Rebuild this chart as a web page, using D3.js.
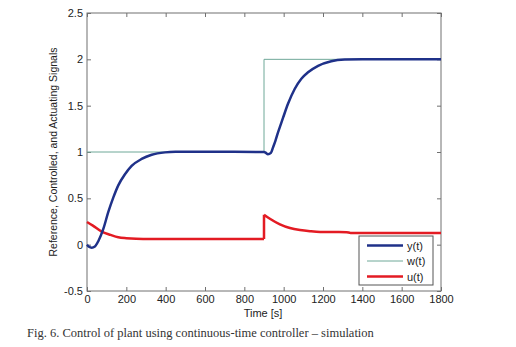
<!DOCTYPE html>
<html>
<head>
<meta charset="utf-8">
<script src="https://cdn.jsdelivr.net/npm/d3@7/dist/d3.min.js"></script>
<style>
  html, body { margin: 0; padding: 0; background: #fff; }
  svg { display: block; }
  text { font-family: "Liberation Sans", Arial, sans-serif; fill: #222; }
  .caption { font-family: "Liberation Serif", "DejaVu Serif", serif; fill: #333; }
</style>
</head>
<body>
<svg id="chart" width="516" height="347"></svg>
<script>
// Simulation time stamps [s] and signal values
const yTime = [0, 10, 24, 40, 58, 83, 108, 134, 159, 193, 227, 278, 329, 397, 450, 550, 700, 900,
               910, 920, 935, 946, 958, 971, 984, 997, 1022, 1056, 1090, 1124, 1175, 1242, 1310, 1400, 1800];
const yValues = [0, -0.022, -0.032, -0.02, 0.04, 0.17, 0.35, 0.51, 0.64, 0.76, 0.85, 0.925, 0.97, 0.996, 1.002, 1.003, 1.002, 1.0,
                 0.99, 0.975, 0.99, 1.05, 1.12, 1.21, 1.29, 1.37, 1.52, 1.68, 1.79, 1.86, 1.93, 1.98, 1.997, 2.0, 2.0];

const wTime = [0, 900, 900, 1800];
const wValues = [1, 1, 2, 2];

const uTime = [0, 30, 75, 120, 159, 200, 250, 320, 900, 900, 930, 981, 1032, 1083, 1134, 1186, 1320, 1340, 1800];
const uValues = [0.245, 0.205, 0.14, 0.105, 0.08, 0.07, 0.064, 0.062, 0.062, 0.324, 0.28, 0.22, 0.18, 0.158, 0.145, 0.137, 0.135, 0.127, 0.127];

const xTicks = [0, 200, 400, 600, 800, 1000, 1200, 1400, 1600, 1800];
const yTicks = [-0.5, 0, 0.5, 1, 1.5, 2, 2.5];
const seriesNames = ["y(t)", "w(t)", "u(t)"];
const seriesColors = ["#1f3189", "#6fa898", "#e31b23"];
const seriesWidths = [2.5, 1, 2.5];

const svg = d3.select("#chart");
const plot = { left: 87, right: 441, top: 13, bottom: 291 };

const x = d3.scaleLinear().domain([0, 1800]).range([plot.left, plot.right]);
const y = d3.scaleLinear().domain([-0.5, 2.5]).range([plot.bottom, plot.top]);

// Frame with inward ticks on all four sides
const frameColor = "#707070";
const axes = svg.append("g");
axes.append("rect")
  .attr("x", plot.left).attr("y", plot.top)
  .attr("width", plot.right - plot.left).attr("height", plot.bottom - plot.top)
  .attr("fill", "none").attr("stroke", frameColor).attr("stroke-width", 1);

// Plain ASCII hyphen for negative tick labels
const yFormat = d => String(d);

const xAxisB = d3.axisBottom(x).tickValues(xTicks).tickSizeInner(-4).tickSizeOuter(0).tickPadding(4).tickFormat(d3.format("d"));
const xAxisT = d3.axisTop(x).tickValues(xTicks).tickSizeInner(-4).tickSizeOuter(0).tickFormat("");
const yAxisL = d3.axisLeft(y).tickValues(yTicks).tickSizeInner(-4).tickSizeOuter(0).tickPadding(4).tickFormat(yFormat);
const yAxisR = d3.axisRight(y).tickValues(yTicks).tickSizeInner(-4).tickSizeOuter(0).tickFormat("");

function styleAxis(g) {
  g.select(".domain").remove();
  g.selectAll("line").attr("stroke", frameColor);
  g.selectAll("text").attr("font-size", 11).attr("fill", "#222")
    .attr("font-family", "'Liberation Sans', Arial, sans-serif");
}
axes.append("g").attr("transform", `translate(0,${plot.bottom})`).call(xAxisB).call(styleAxis);
axes.append("g").attr("transform", `translate(0,${plot.top})`).call(xAxisT).call(styleAxis);
axes.append("g").attr("transform", `translate(${plot.left},0)`).call(yAxisL).call(styleAxis);
axes.append("g").attr("transform", `translate(${plot.right},0)`).call(yAxisR).call(styleAxis);

// Signals: smooth pieces, with sharp jumps where a time stamp repeats
function drawSeries(times, values, color, width) {
  const pts = times.map((t, i) => [t, values[i]]);
  const pieces = [];
  let cur = [pts[0]];
  for (let i = 1; i < pts.length; i++) {
    if (pts[i][0] === pts[i - 1][0]) {
      pieces.push(cur);
      pieces.push([pts[i - 1], pts[i]]);
      cur = [pts[i]];
    } else {
      cur.push(pts[i]);
    }
  }
  pieces.push(cur);
  const line = d3.line().x(d => x(d[0])).y(d => y(d[1])).curve(d3.curveMonotoneX);
  const d = pieces.filter(p => p.length > 1).map(p => {
    if (p.length === 2 && p[0][0] === p[1][0]) {
      return `M${x(p[0][0])},${y(p[0][1])}L${x(p[1][0])},${y(p[1][1])}`;
    }
    return line(p);
  }).join("");
  svg.append("path").attr("d", d).attr("fill", "none")
    .attr("stroke", color).attr("stroke-width", width)
    .attr("stroke-linejoin", "round");
}
drawSeries(wTime, wValues, seriesColors[1], seriesWidths[1]);
drawSeries(uTime, uValues, seriesColors[2], seriesWidths[2]);
drawSeries(yTime, yValues, seriesColors[0], seriesWidths[0]);

// Axis titles
svg.append("text")
  .attr("x", x(900) - 1).attr("y", 317)
  .attr("text-anchor", "middle").attr("font-size", 11)
  .text("Time [s]");
svg.append("text")
  .attr("transform", `translate(57,${(plot.top + plot.bottom) / 2}) rotate(-90)`)
  .attr("text-anchor", "middle").attr("font-size", 10.5)
  .text("Reference, Controlled, and Actuating Signals");

// Legend
const legend = svg.append("g").attr("transform", "translate(359,236)");
legend.append("rect").attr("x", 0).attr("y", 0).attr("width", 74).attr("height", 49)
  .attr("fill", "#fff").attr("stroke", "#555").attr("stroke-width", 1);
seriesNames.forEach((name, i) => {
  const ry = 9.5 + i * 15.5;
  legend.append("line").attr("x1", 8).attr("x2", 44).attr("y1", ry).attr("y2", ry)
    .attr("stroke", seriesColors[i]).attr("stroke-width", seriesWidths[i]);
  legend.append("text").attr("x", 48).attr("y", ry + 4).attr("font-size", 11).text(name);
});

// Figure caption
svg.append("text").attr("class", "caption")
  .attr("x", 27).attr("y", 337).attr("font-size", 12.5)
  .text("Fig. 6. Control of plant using continuous-time controller \u2013 simulation");
</script>
</body>
</html>
